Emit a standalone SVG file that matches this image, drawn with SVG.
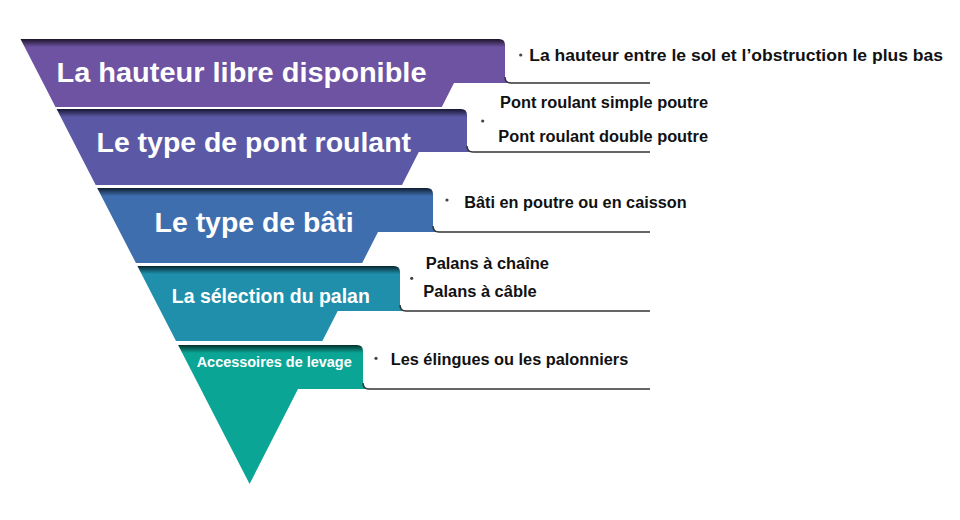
<svg xmlns="http://www.w3.org/2000/svg" width="960" height="520" viewBox="0 0 960 520">
  <style>
    .title { font-family: "Liberation Sans", Arial, sans-serif; font-weight: bold; fill: #ffffff; }
    .item { font-family: "Liberation Sans", Arial, sans-serif; font-weight: bold; font-size: 16px; fill: #111111; }
    .card { fill: #ffffff; }
    .cardline { fill: none; stroke: #333333; stroke-width: 1.5; }
    .bullet { fill: #444444; }
  </style>
  <defs>
    <linearGradient id="g1" gradientUnits="userSpaceOnUse" x1="0" y1="39" x2="0" y2="47">
      <stop offset="0" stop-color="#1c1428"/><stop offset="1" stop-color="#6e53a3"/>
    </linearGradient>
    <linearGradient id="g2" gradientUnits="userSpaceOnUse" x1="0" y1="109" x2="0" y2="117">
      <stop offset="0" stop-color="#171630"/><stop offset="1" stop-color="#5b59a6"/>
    </linearGradient>
    <linearGradient id="g3" gradientUnits="userSpaceOnUse" x1="0" y1="188" x2="0" y2="196">
      <stop offset="0" stop-color="#0f1d30"/><stop offset="1" stop-color="#3f6eae"/>
    </linearGradient>
    <linearGradient id="g4" gradientUnits="userSpaceOnUse" x1="0" y1="266" x2="0" y2="274">
      <stop offset="0" stop-color="#07262e"/><stop offset="1" stop-color="#1f8fab"/>
    </linearGradient>
    <linearGradient id="g5" gradientUnits="userSpaceOnUse" x1="0" y1="345" x2="0" y2="353">
      <stop offset="0" stop-color="#04302a"/><stop offset="1" stop-color="#0ba596"/>
    </linearGradient>
  </defs>
  <rect width="960" height="520" fill="#ffffff"/>

  <g id="level1">
    <path fill="url(#g1)" d="M20.5,39 H499 Q505,39 505,45 V77 H511 V83 H454 L441.8,107 H55.5 Z"/>
    <path class="card" d="M505,39 H650 V83 H511 Q505,83 505,77 Z"/>
    <path class="cardline" d="M505,77 Q505,83 511,83 H650"/>
    <text class="title" x="56.5" y="82" font-size="28" textLength="370" lengthAdjust="spacingAndGlyphs">La hauteur libre disponible</text>
    <circle class="bullet" cx="520.7" cy="55" r="1.6"/>
    <text class="item" x="529.3" y="60.7" textLength="413.7" lengthAdjust="spacingAndGlyphs">La hauteur entre le sol et l’obstruction le plus bas</text>
  </g>

  <g id="level2">
    <path fill="url(#g2)" d="M56.6,109 H461 Q467,109 467,115 V146 H473 V152 H418.8 L402,185 H95.7 Z"/>
    <path class="card" d="M467,109 H650 V152 H473 Q467,152 467,146 Z"/>
    <path class="cardline" d="M467,146 Q467,152 473,152 H650"/>
    <text class="title" x="96.5" y="152" font-size="28" textLength="314.5" lengthAdjust="spacingAndGlyphs">Le type de pont roulant</text>
    <text class="item" x="500" y="107.7" textLength="208" lengthAdjust="spacingAndGlyphs">Pont roulant simple poutre</text>
    <circle class="bullet" cx="482.7" cy="121" r="1.6"/>
    <text class="item" x="498.3" y="141.7" textLength="209.7" lengthAdjust="spacingAndGlyphs">Pont roulant double poutre</text>
  </g>

  <g id="level3">
    <path fill="url(#g3)" d="M97.2,188 H427 Q433,188 433,194 V226 H439 V232 H378 L362.2,263 H135.9 Z"/>
    <path class="card" d="M433,188 H650 V232 H439 Q433,232 433,226 Z"/>
    <path class="cardline" d="M433,226 Q433,232 439,232 H650"/>
    <text class="title" x="154.6" y="232" font-size="28" textLength="199" lengthAdjust="spacingAndGlyphs">Le type de bâti</text>
    <circle class="bullet" cx="447" cy="200" r="1.6"/>
    <text class="item" x="464.3" y="207.7" textLength="222.4" lengthAdjust="spacingAndGlyphs">Bâti en poutre ou en caisson</text>
  </g>

  <g id="level4">
    <path fill="url(#g4)" d="M137.4,266 H394 Q400,266 400,272 V305 H406 V311 H337.7 L322.4,341 H176 Z"/>
    <path class="card" d="M400,266 H650 V311 H406 Q400,311 400,305 Z"/>
    <path class="cardline" d="M400,305 Q400,311 406,311 H650"/>
    <text class="title" x="171.8" y="303" font-size="21" textLength="198" lengthAdjust="spacingAndGlyphs">La sélection du palan</text>
    <text class="item" x="425.7" y="269" textLength="123.3" lengthAdjust="spacingAndGlyphs">Palans à chaîne</text>
    <circle class="bullet" cx="411.7" cy="278.3" r="1.6"/>
    <text class="item" x="423.3" y="297.3" textLength="113.4" lengthAdjust="spacingAndGlyphs">Palans à câble</text>
  </g>

  <g id="level5">
    <path fill="url(#g5)" d="M178.1,345 H357 Q363,345 363,351 V383 H369 V389 H298 L249.6,484 Z"/>
    <path class="card" d="M363,345 H650 V389 H369 Q363,389 363,383 Z"/>
    <path class="cardline" d="M363,383 Q363,389 369,389 H650"/>
    <text class="title" x="196.7" y="366.7" font-size="14" textLength="155" lengthAdjust="spacingAndGlyphs">Accessoires de levage</text>
    <circle class="bullet" cx="376" cy="358.3" r="1.6"/>
    <text class="item" x="390.7" y="365" textLength="237.6" lengthAdjust="spacingAndGlyphs">Les élingues ou les palonniers</text>
  </g>

  <g id="connectors"/>
</svg>
